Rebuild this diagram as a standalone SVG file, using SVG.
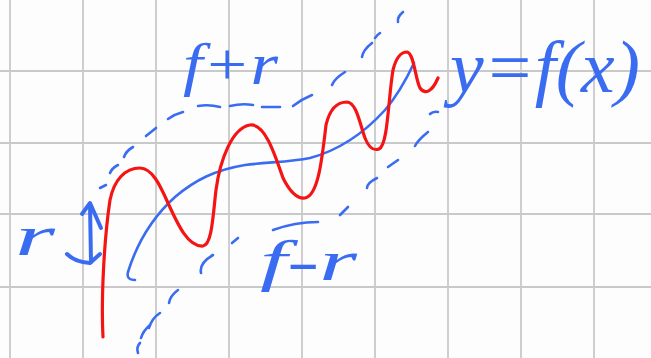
<svg xmlns="http://www.w3.org/2000/svg" width="651" height="358" viewBox="0 0 651 358">
<style>
.grid{stroke:#c9c9c9;stroke-width:1.8;fill:none}
.blue{stroke:#3a6cf2;fill:none;stroke-linecap:round;stroke-linejoin:round}
.red{stroke:#f51414;fill:none;stroke-width:3.2;stroke-linecap:round;stroke-linejoin:round}
.dash{stroke:#3a6cf2;fill:none;stroke-width:2.6;stroke-linecap:round;stroke-linejoin:round}
.lbl{font-family:"Liberation Serif",serif;font-style:italic;fill:#3a6cf2}
</style>
<rect width="651" height="358" fill="#fdfdfd"/>
<g id="grid" class="grid">
<path d="M10,0V358M83,0V358M156,0V358M229,0V358M302,0V358M375,0V358M448,0V358M521,0V358M594,0V358"/>
<path d="M0,71H651M0,143H651M0,214H651M0,287H651"/>
</g>
<g id="band-upper" class="dash">
<path d="M100,188 L106,185"/>
<path d="M110,173 Q112,168 118,165"/>
<path d="M124,157 Q126,151 133,147"/>
<path d="M146,136 L156,128"/>
<path d="M168,119 Q175,114 183,112"/>
<path d="M198,106 Q209,104 220,107"/>
<path d="M230,106 Q242,103 253,105"/>
<path d="M262,107 L280,107"/>
<path d="M293,106 Q302,99 312,95"/>
<path d="M332,85 Q334,79 345,72"/>
<path d="M362,57 Q363,50 372,43"/>
<path d="M375,38 Q377,35 380,33"/>
<path d="M398,22 Q397,17 403,12"/>
</g>
<g id="band-lower" class="dash">
<path d="M138,353 Q136,347 140,343"/>
<path d="M141,338 Q143,331 150,325"/>
<path d="M149,328 Q152,318 160,313"/>
<path d="M169,303 Q170,296 178,290"/>
<path d="M201,273 Q199,263 213,255"/>
<path d="M232,243 L238,238"/>
<path d="M273,230 Q295,222 318,222"/>
<path d="M340,215 L348,207"/>
<path d="M367,188 Q367,183 377,178"/>
<path d="M388,167 L398,160"/>
<path d="M415,146 Q418,140 428,132"/>
<path d="M430,114 Q433,111 438,112"/>
</g>
<g id="curve-f">
<path class="blue" stroke-width="2.6" d="M135,280 Q126,280 128,272 C138,240 155,215 175,197 C195,180 215,170 245,165 C270,162 290,162 310,158 C340,150 365,132 385,110 C398,95 406,80 414,63"/>
</g>
<g id="curve-red">
<path class="red" d="M103,337 C101,300 104,240 110,200 C114,180 125,168 140,168 C152,168 160,185 168,203 C178,225 188,247 203,246 C212,245 213,215 216,190 C220,160 232,128 250,125 C265,123 275,155 283,178 C290,192 297,199 305,198 C318,196 322,160 326,125 C330,108 338,102 347,102 C357,103 360,125 365,138 C369,148 373,151 379,149 C388,145 388,100 393,70 C396,58 400,52 407,52 C414,53 415,78 420,88 C425,95 432,92 438,78"/>
</g>
<g id="arrow-r" class="blue" stroke-width="4">
<path d="M90,204 L91,262"/>
<path d="M82,214 L90,203 L101,228"/>
<path d="M67,254 Q75,262 90,263 L100,254"/>
</g>
<g id="labels">
<text id="label-fplusr" class="lbl" x="183" y="84" font-size="60" textLength="95" lengthAdjust="spacingAndGlyphs">f+r</text>
<text id="label-yfx" class="lbl" x="450" y="92" font-size="74" textLength="190" lengthAdjust="spacingAndGlyphs">y=f(x)</text>
<text id="label-r" class="lbl" x="15" y="255" font-size="58" textLength="40" lengthAdjust="spacingAndGlyphs">r</text>
<text id="label-fminusr" class="lbl" x="260" y="280" font-size="58" textLength="97" lengthAdjust="spacingAndGlyphs">f-r</text>
</g>
</svg>
